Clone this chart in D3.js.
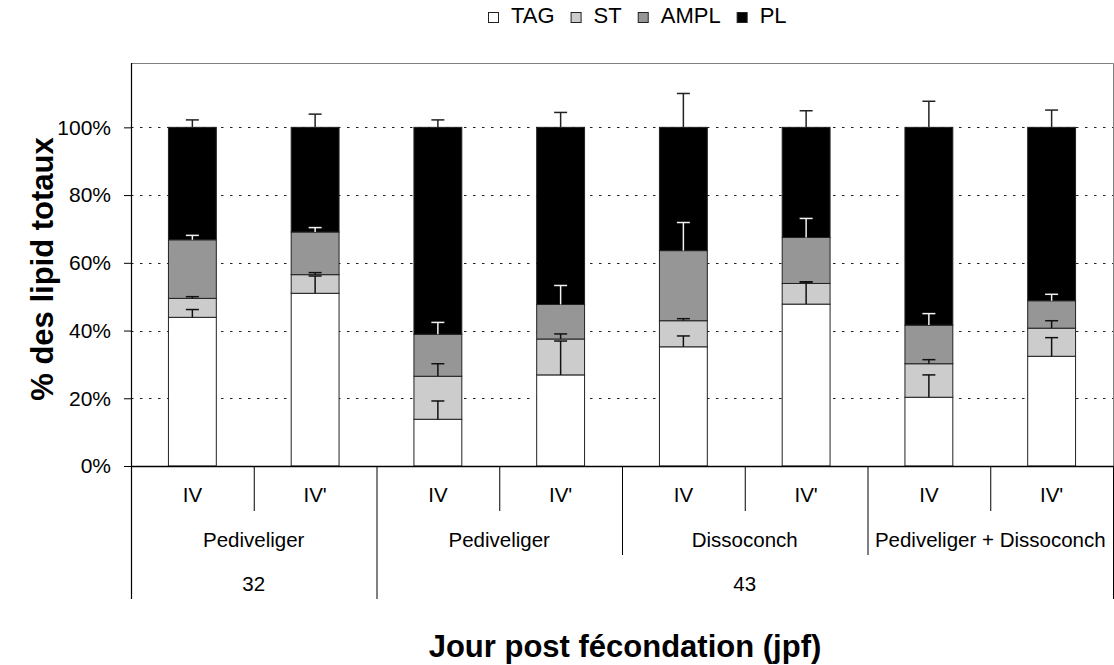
<!DOCTYPE html>
<html>
<head>
<meta charset="utf-8">
<script src="https://cdn.jsdelivr.net/npm/d3@7"></script>
<style>
  html, body { margin: 0; padding: 0; background: #fff; }
  svg { display: block; font-family: "Liberation Sans", Arial, sans-serif; }
</style>
</head>
<body>
<svg id="chart" width="1114" height="665"></svg>
<script>
// Stage IV / IV' samples, grouped by larval stage and by day post-fertilisation
const categories = ["IV", "IV'", "IV", "IV'", "IV", "IV'", "IV", "IV'"];
const stageLabels = ["Pediveliger", "Pediveliger", "Dissoconch", "Pediveliger + Dissoconch"];
const stageSpans = [2, 2, 2, 2];
const dayLabels = ["32", "43"];
const daySpans = [2, 6];

// Lipid class shares (% of total lipids)
const seriesNames = ["TAG", "ST", "AMPL", "PL"];
const TAG  = [43.9, 51.0, 13.8, 26.9, 35.2, 47.8, 20.3, 32.4];
const ST   = [5.6, 5.5, 12.7, 10.6, 7.7, 6.1, 9.9, 8.3];
const AMPL = [17.3, 12.6, 12.4, 10.2, 20.7, 13.6, 11.4, 8.1];
const PL   = [33.2, 30.9, 61.1, 52.3, 36.4, 32.5, 58.4, 51.2];

// Standard deviations (drawn upward from each segment top)
const TAG_err  = [2.3, 5.1, 5.4, 10.0, 3.2, 6.6, 6.6, 5.5];
const ST_err   = [0.5, 0.6, 3.7, 1.5, 0.6, 0.4, 1.2, 2.2];
const AMPL_err = [1.3, 1.3, 3.5, 5.6, 8.3, 5.6, 3.4, 1.9];
const PL_err   = [2.2, 3.9, 2.2, 4.4, 10.0, 4.9, 7.7, 5.1];

const yTicks = [0, 20, 40, 60, 80, 100];
const xTitle = "Jour post fécondation (jpf)";
const yTitle = "% des lipid totaux";

const fills = { TAG: "#ffffff", ST: "#cccccc", AMPL: "#969696", PL: "#000000" };
const errColors = { TAG: "#111", ST: "#111", AMPL: "#f2f2f2", PL: "#222" };

const rows = categories.map((c, i) => ({ i, TAG: TAG[i], ST: ST[i], AMPL: AMPL[i], PL: PL[i] }));
const errs = { TAG: TAG_err, ST: ST_err, AMPL: AMPL_err, PL: PL_err };

const svg = d3.select("#chart");
const plotL = 131, plotR = 1113, plotT = 63, plotB = 466;
const tableDepth = [511, 555, 599];

const x = d3.scaleBand().domain(d3.range(categories.length))
  .range([plotL, plotR]).paddingInner(0.61).paddingOuter(0.305);
const y = d3.scaleLinear().domain([0, 119]).range([plotB, plotT]);
const step = x.step();
const bw = x.bandwidth();

// Plot frame (top and right, grey)
svg.append("path")
  .attr("d", `M${plotL},${plotT + 0.5}H${plotR + 0.5}V${plotB}`)
  .attr("fill", "none").attr("stroke", "#808080").attr("stroke-width", 1);

// Dotted gridlines
svg.append("g").selectAll("line").data(yTicks.filter(d => d > 0)).join("line")
  .attr("x1", plotL).attr("x2", plotR)
  .attr("y1", d => Math.round(y(d)) + 0.5).attr("y2", d => Math.round(y(d)) + 0.5)
  .attr("stroke", "#222").attr("stroke-width", 1.2).attr("stroke-dasharray", "2.5,6.5");

// Stacked bars
const stacked = d3.stack().keys(seriesNames)(rows);
const gBars = svg.append("g");
stacked.forEach(layer => {
  gBars.append("g").selectAll("rect").data(layer).join("rect")
    .attr("x", d => x(d.data.i))
    .attr("y", d => y(d[1]))
    .attr("width", bw)
    .attr("height", d => y(d[0]) - y(d[1]))
    .attr("fill", fills[layer.key])
    .attr("stroke", "#222").attr("stroke-width", 1);
});

// Error bars (plus direction only)
const gErr = svg.append("g");
stacked.forEach(layer => {
  const e = errs[layer.key];
  const g = gErr.append("g").attr("stroke", errColors[layer.key]).attr("stroke-width", 1.5);
  layer.forEach(d => {
    const cx = x(d.data.i) + bw / 2;
    const yTop = y(d[1]);
    const yEnd = y(d[1] + e[d.data.i]);
    g.append("line").attr("x1", cx).attr("x2", cx).attr("y1", yTop).attr("y2", yEnd);
    g.append("line").attr("x1", cx - 6.5).attr("x2", cx + 6.5).attr("y1", yEnd).attr("y2", yEnd);
  });
});

// Y axis
const yAxis = svg.append("g").attr("transform", `translate(${plotL},0)`)
  .call(d3.axisLeft(y).tickValues(yTicks).tickSize(7).tickPadding(13).tickFormat(d => d + "%"));
yAxis.select(".domain").remove();
yAxis.selectAll(".tick line").attr("stroke", "#000");
yAxis.selectAll(".tick text").attr("font-size", 21).attr("fill", "#000")
  .attr("font-family", "'Liberation Sans', Arial, sans-serif");

// Left axis line, continued down through the category table
svg.append("line").attr("x1", plotL + 0.5).attr("x2", plotL + 0.5)
  .attr("y1", plotT).attr("y2", tableDepth[2]).attr("stroke", "#000").attr("stroke-width", 1.2);
// Bottom axis line
svg.append("line").attr("x1", plotL).attr("x2", plotR + 1)
  .attr("y1", plotB + 0.5).attr("y2", plotB + 0.5).attr("stroke", "#000").attr("stroke-width", 1.5);

// Multi-level category table
const stageEdges = d3.cumsum(stageSpans);
const dayEdges = d3.cumsum(daySpans);
const boundaries = d3.range(1, categories.length + 1);
svg.append("g").selectAll("line").data(boundaries).join("line")
  .attr("x1", b => plotL + b * step + 0.5).attr("x2", b => plotL + b * step + 0.5)
  .attr("y1", plotB)
  .attr("y2", b => dayEdges.includes(b) ? tableDepth[2] : stageEdges.includes(b) ? tableDepth[1] : tableDepth[0])
  .attr("stroke", "#000").attr("stroke-width", 1);

const lab = svg.append("g").attr("font-size", 20.5).attr("fill", "#000").attr("text-anchor", "middle");
lab.selectAll("text.l1").data(categories).join("text").attr("class", "l1")
  .attr("x", (c, i) => x(i) + bw / 2).attr("y", 502).text(c => c);

function spanCenters(spans) {
  let start = 0;
  return spans.map(s => { const c = plotL + (start + s / 2) * step; start += s; return c; });
}
const stageCx = spanCenters(stageSpans);
lab.selectAll("text.l2").data(stageLabels).join("text").attr("class", "l2")
  .attr("x", (c, i) => stageCx[i]).attr("y", 547).text(c => c);
const dayCx = spanCenters(daySpans);
lab.selectAll("text.l3").data(dayLabels).join("text").attr("class", "l3")
  .attr("x", (c, i) => dayCx[i]).attr("y", 591).text(c => c);

// Axis titles
svg.append("text").attr("x", 625).attr("y", 657).attr("text-anchor", "middle")
  .attr("font-size", 31).attr("font-weight", "bold").text(xTitle);
svg.append("text").attr("transform", "translate(53,269) rotate(-90)").attr("text-anchor", "middle")
  .attr("font-size", 31).attr("font-weight", "bold").text(yTitle);

// Legend
const legend = svg.append("g");
let cursor = 488;
seriesNames.forEach(name => {
  legend.append("rect").attr("x", cursor + 0.5).attr("y", 12.5).attr("width", 10).attr("height", 10)
    .attr("fill", fills[name]).attr("stroke", "#222").attr("stroke-width", 1);
  const t = legend.append("text").attr("x", cursor + 23).attr("y", 23)
    .attr("font-size", 22).attr("fill", "#000").text(name);
  cursor = cursor + 23 + t.node().getComputedTextLength() + 16;
});
</script>
</body>
</html>
